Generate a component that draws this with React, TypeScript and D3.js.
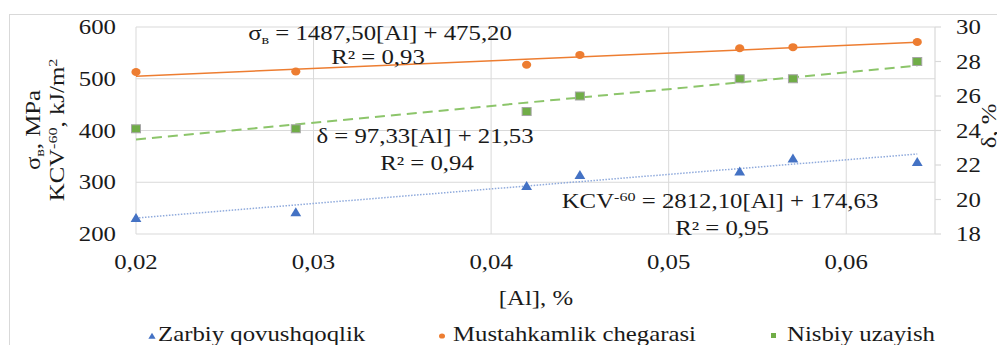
import React from "react";
import * as d3 from "d3";

const alContent = [0.02, 0.029, 0.042, 0.045, 0.054, 0.057, 0.064];
const zarbiy = [231, 242, 293, 314, 321, 346, 339];
const mustahkamlik = [513, 514, 527, 546, 559, 561, 571];
const nisbiy = [24.1, 24.1, 25.1, 26.0, 27.0, 27.0, 28.0];

const leftTicks = [200, 300, 400, 500, 600];
const rightTicks = [18, 20, 22, 24, 26, 28, 30];
const xTicks = [0.02, 0.03, 0.04, 0.05, 0.06];

// trendline coefficients [slope, intercept]
const trendZarbiy = [2812.1, 174.63];
const trendMust = [1487.5, 475.2];
const trendNisbiy = [97.33, 21.53];

const legendLabels = ["Zarbiy qovushqoqlik", "Mustahkamlik chegarasi", "Nisbiy uzayish"];

const W = 997;
const H = 345;
const FONT = "'Liberation Serif', 'Times New Roman', serif";
const SX = 1.24;
const FS = 20;

const BLUE = "#4472C4";
const ORANGE = "#ED7D31";
const GREEN = "#70AD47";
const GRID = "#d9d9d9";

function T({ x, y, anchor = "start", rotate = 0, children, size = FS }: any) {
  return (
    <text
      transform={`translate(${x},${y}) rotate(${rotate}) scale(${SX},1)`}
      textAnchor={anchor}
      fontFamily={FONT}
      fontSize={size}
      fill="#1a1a1a"
    >
      {children}
    </text>
  );
}

function tri(cx: number, cy: number, s: number) {
  return `M${cx},${cy - s * 0.55} L${cx + s * 0.6},${cy + s * 0.45} L${cx - s * 0.6},${cy + s * 0.45} Z`;
}

export default function App() {
  const x = d3.scaleLinear().domain([0.02, 0.065]).range([136, 935]);
  const yL = d3.scaleLinear().domain([200, 600]).range([234, 27]);
  const yR = d3.scaleLinear().domain([18, 30]).range([234, 27]);

  const xMin = alContent[0];
  const xMax = alContent[alContent.length - 1];
  const line = d3.line<number[]>().x((d) => d[0]).y((d) => d[1]);
  const trend = (c: number[], ys: any) =>
    line([
      [x(xMin), ys(c[0] * xMin + c[1])],
      [x(xMax), ys(c[0] * xMax + c[1])],
    ]) as string;

  return (
    <svg width={W} height={H} style={{ position: "absolute", left: 0, top: 0 }}>
      <rect x={0} y={0} width={W} height={H} fill="#fff" />
      <rect x={9.5} y={14.5} width={W + 10} height={H + 10} fill="none" stroke={GRID} strokeWidth={1} />

      {/* gridlines */}
      {leftTicks.slice(1).map((t) => (
        <line key={"h" + t} x1={136} x2={935} y1={yL(t)} y2={yL(t)} stroke={GRID} strokeWidth={1} />
      ))}
      {xTicks.map((t) => (
        <line key={"v" + t} x1={x(t)} x2={x(t)} y1={27} y2={234} stroke={GRID} strokeWidth={1} />
      ))}
      {/* axes */}
      <line x1={136} x2={935} y1={234} y2={234} stroke={GRID} strokeWidth={1.2} />
      <line x1={935} x2={935} y1={27} y2={234} stroke={GRID} strokeWidth={1.2} />
      {rightTicks.map((t) => (
        <line key={"rt" + t} x1={935} x2={941} y1={yR(t)} y2={yR(t)} stroke={GRID} strokeWidth={1.2} />
      ))}

      {/* tick labels */}
      {leftTicks.map((t) => (
        <T key={"lt" + t} x={116} y={yL(t) + 7} anchor="end">{String(t)}</T>
      ))}
      {rightTicks.map((t) => (
        <T key={"rl" + t} x={956} y={yR(t) + 7} anchor="start">{String(t)}</T>
      ))}
      {xTicks.map((t) => (
        <T key={"xl" + t} x={x(t)} y={269} anchor="middle">{d3.format(".2f")(t).replace(".", ",")}</T>
      ))}

      {/* axis titles */}
      <T x={40} y={130} anchor="middle" rotate={-90}>
        σ<tspan fontSize={13} dy={4}>в</tspan><tspan dy={-4}>, MPa</tspan>
      </T>
      <T x={64} y={130} anchor="middle" rotate={-90}>
        KCV<tspan fontSize={13} dy={-7}>-60</tspan><tspan dy={7}>, kJ/m</tspan><tspan fontSize={13} dy={-7}>2</tspan>
      </T>
      <T x={996} y={126} anchor="middle" rotate={-90}>δ, %</T>
      <T x={536} y={305} anchor="middle">[Al], %</T>

      {/* trendlines */}
      <path d={trend(trendZarbiy, yL)} fill="none" stroke="#8faadc" strokeWidth={1.5} strokeDasharray="1.5 1.5" />
      <path d={trend(trendMust, yL)} fill="none" stroke={ORANGE} strokeWidth={1.6} />
      <path d={trend(trendNisbiy, yR)} fill="none" stroke="#8cc56a" strokeWidth={2} strokeDasharray="10 6" />

      {/* markers */}
      {alContent.map((a, i) => (
        <path key={"z" + i} d={tri(x(a), yL(zarbiy[i]), 9)} fill={BLUE} />
      ))}
      {alContent.map((a, i) => (
        <ellipse key={"m" + i} cx={x(a)} cy={yL(mustahkamlik[i])} rx={4.6} ry={4} fill={ORANGE} />
      ))}
      {alContent.map((a, i) => (
        <rect key={"n" + i} x={x(a) - 4.5} y={yR(nisbiy[i]) - 4} width={9} height={8} fill={GREEN} stroke="#a6a6a6" strokeWidth={1} />
      ))}

      {/* equations */}
      <T x={380} y={40} anchor="middle">
        σ<tspan fontSize={13} dy={4}>в</tspan><tspan dy={-4}> = 1487,50[Al]  + 475,20</tspan>
      </T>
      <T x={378} y={64} anchor="middle">R² = 0,93</T>
      <T x={425} y={143} anchor="middle">δ = 97,33[Al]  + 21,53</T>
      <T x={427} y={170} anchor="middle">R² = 0,94</T>
      <T x={720} y={208} anchor="middle">
        KCV<tspan fontSize={13} dy={-7}>-60</tspan><tspan dy={7}> = 2812,10[Al]  + 174,63</tspan>
      </T>
      <T x={722} y={235} anchor="middle">R² = 0,95</T>

      {/* legend */}
      <path d={tri(152, 336, 6)} fill={BLUE} />
      <T x={158} y={341}>{legendLabels[0]}</T>
      <ellipse cx={442} cy={336} rx={3} ry={2.6} fill={ORANGE} />
      <T x={453} y={341}>{legendLabels[1]}</T>
      <rect x={771} y={333} width={5} height={5} fill={GREEN} />
      <T x={787} y={341}>{legendLabels[2]}</T>
    </svg>
  );
}
